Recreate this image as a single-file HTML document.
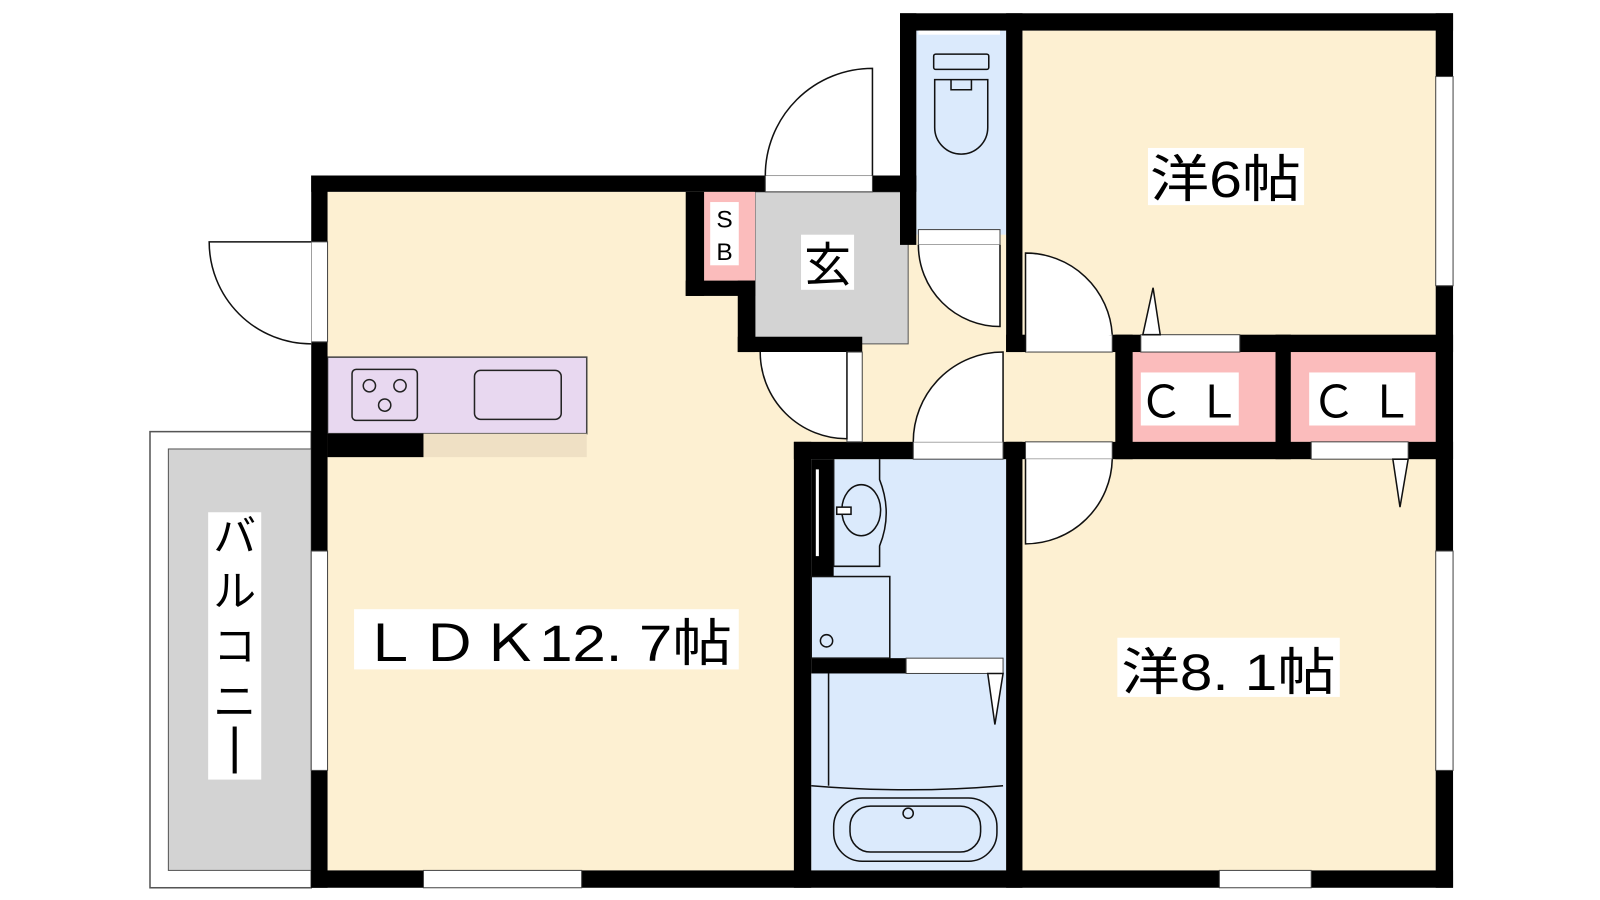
<!DOCTYPE html>
<html><head><meta charset="utf-8"><style>html,body{margin:0;padding:0;background:#fff}svg{display:block}text{font-family:"Liberation Sans","Noto Sans CJK JP",sans-serif}</style></head><body>
<svg width="1600" height="900" viewBox="0 0 1568 882" xmlns="http://www.w3.org/2000/svg">
<rect width="1568" height="882" fill="#fff"/>
<!-- balcony -->
<rect x="147" y="423" width="158" height="447" fill="#fff" stroke="#555" stroke-width="1.5"/>
<rect x="165" y="440" width="140" height="413" fill="#d3d3d3" stroke="#555" stroke-width="1"/>
<!-- floors -->
<rect x="321" y="188" width="681" height="665" fill="#fdf0d2"/>
<rect x="1002" y="30" width="405" height="823" fill="#fdf0d2"/>
<rect x="898" y="30" width="88" height="200" fill="#dbeafc"/>
<rect x="795" y="450" width="191" height="403" fill="#dbeafc"/>
<rect x="740" y="188" width="150" height="149" fill="#d3d3d3" stroke="#555" stroke-width="1"/>
<rect x="690" y="188" width="50" height="87" fill="#fbbcbc"/>
<rect x="1110" y="345" width="140" height="88" fill="#fbbcbc"/>
<rect x="1265" y="345" width="142" height="88" fill="#fbbcbc"/>
<!-- kitchen -->
<rect x="321" y="350" width="254" height="75" fill="#e8d8f0" stroke="#444" stroke-width="1.5"/>
<rect x="415" y="425" width="160" height="23" fill="#efe0c4"/>
<rect x="321" y="425" width="94" height="23" fill="#000"/>
<rect x="345" y="362" width="64" height="50" rx="4" fill="none" stroke="#222" stroke-width="1.5"/>
<circle cx="362" cy="378" r="6" fill="none" stroke="#222" stroke-width="1.5"/><circle cx="392" cy="378" r="6" fill="none" stroke="#222" stroke-width="1.5"/><circle cx="377" cy="397" r="6" fill="none" stroke="#222" stroke-width="1.5"/>
<rect x="465" y="363" width="85" height="48" rx="6" fill="none" stroke="#222" stroke-width="1.5"/>
<!-- walls -->
<g fill="#000">
<rect x="882" y="13" width="542" height="17"/>
<rect x="1407" y="13" width="17" height="857"/>
<rect x="305" y="853" width="1119" height="17"/>
<rect x="305" y="172" width="16" height="698"/>
<rect x="305" y="172" width="445" height="16"/>
<rect x="855" y="172" width="43" height="16"/>
<rect x="882" y="13" width="16" height="227"/>
<rect x="986" y="13" width="16" height="332"/>
<rect x="986" y="328" width="20" height="17"/>
<rect x="1090" y="328" width="28" height="17"/>
<rect x="1215" y="328" width="209" height="17"/>
<rect x="1093" y="328" width="17" height="122"/>
<rect x="1250" y="328" width="15" height="122"/>
<rect x="778" y="433" width="117" height="17"/>
<rect x="983" y="433" width="22" height="17"/>
<rect x="1090" y="433" width="195" height="17"/>
<rect x="1380" y="433" width="44" height="17"/>
<rect x="778" y="433" width="17" height="437"/>
<rect x="986" y="433" width="16" height="437"/>
<rect x="795" y="645" width="93" height="15"/>
<rect x="795" y="450" width="22" height="115"/>
<rect x="672" y="188" width="18" height="102"/>
<rect x="672" y="275" width="68" height="15"/>
<rect x="723" y="275" width="17" height="70"/>
<rect x="723" y="330" width="122" height="15"/>
</g>
<!-- windows / white openings -->
<g fill="#fff" stroke="#444" stroke-width="1">
<rect x="900" y="30" width="80" height="4" stroke="none"/>
<rect x="305" y="237" width="16" height="98"/>
<rect x="305" y="540" width="16" height="215"/>
<rect x="1407" y="75" width="17" height="205"/>
<rect x="1407" y="540" width="17" height="215"/>
<rect x="415" y="853" width="155" height="17"/>
<rect x="1195" y="853" width="90" height="17"/>
<rect x="750" y="172" width="105" height="16"/>
<rect x="900" y="225" width="80" height="15"/>
<rect x="1005" y="328" width="85" height="17"/>
<rect x="1118" y="328" width="97" height="17"/>
<rect x="895" y="433" width="88" height="17"/>
<rect x="1005" y="433" width="85" height="17"/>
<rect x="1285" y="433" width="95" height="17"/>
<rect x="830" y="345" width="15" height="88"/>
<rect x="888" y="645" width="95" height="15"/>
</g>
<line x1="801" y1="460" x2="801" y2="545" stroke="#fff" stroke-width="3"/>
<!-- doors -->
<g fill="#fff" stroke="#111" stroke-width="1.5">
<path d="M855 172 V67 A105 105 0 0 0 750 172"/>
<path d="M305 237 H205 A100 100 0 0 0 305 337"/>
<path d="M980 240 V320 A80 80 0 0 1 900 240"/>
<path d="M1005 345 V248 A85 85 0 0 1 1090 328"/>
<path d="M830 345 V430 A85 85 0 0 1 745 345"/>
<path d="M983 433 V345 A88 88 0 0 0 895 433"/>
<path d="M1005 450 V533 A85 85 0 0 0 1090 450"/>
<path d="M1120 328 L1130 282 L1137 328 Z"/>
<path d="M1365 450 L1372 497 L1380 450 Z"/>
<path d="M968 660 L975 710 L983 660 Z"/>
</g>
<!-- toilet / bath -->
<g fill="none" stroke="#111" stroke-width="1.5">
<rect x="915" y="53" width="54" height="15" rx="2"/>
<path d="M916 78 H968 V125 A26 26 0 0 1 916 125 Z"/>
<path d="M932 78 V88 H952 V78"/>
<path d="M817 450 V555 H862 V535 Q875 503 862 470 V450"/>
<ellipse cx="844" cy="500" rx="19" ry="25"/>
<rect x="820" y="497" width="14" height="7" fill="#fff"/>
<rect x="795" y="565" width="77" height="80"/>
<circle cx="810" cy="628" r="6"/>
<line x1="812" y1="660" x2="812" y2="770"/>
<path d="M795 770 Q890 778 983 770"/>
<rect x="817" y="782" width="160" height="62" rx="28"/>
<rect x="833" y="790" width="128" height="45" rx="20"/>
<circle cx="890" cy="797" r="5"/>
</g>
<!-- labels -->
<rect x="696" y="198" width="28" height="62" fill="#fff"/>
<text x="710" y="223" font-size="24" text-anchor="middle">S</text>
<text x="710" y="255" font-size="24" text-anchor="middle">B</text>
<rect x="785" y="230" width="52" height="54" fill="#fff"/>
<text x="811" y="276" font-size="46" text-anchor="middle">玄</text>
<rect x="1125" y="145" width="153" height="56" fill="#fff"/>
<text x="1201" y="193" font-size="50" text-anchor="middle" textLength="148" lengthAdjust="spacingAndGlyphs">洋6帖</text>
<rect x="1118" y="365" width="96" height="52" fill="#fff"/>
<text x="1166" y="409" font-size="44" text-anchor="middle">Ｃ Ｌ</text>
<rect x="1283" y="365" width="104" height="52" fill="#fff"/>
<text x="1335" y="409" font-size="44" text-anchor="middle">Ｃ Ｌ</text>
<rect x="1095" y="625" width="218" height="58" fill="#fff"/>
<text x="1204" y="676" font-size="50" text-anchor="middle" textLength="210" lengthAdjust="spacingAndGlyphs">洋8. 1帖</text>
<rect x="347" y="597" width="377" height="59" fill="#fff"/>
<text x="535" y="648" font-size="50" text-anchor="middle" textLength="365" lengthAdjust="spacingAndGlyphs">ＬＤＫ12. 7帖</text>
<rect x="204" y="502" width="52" height="262" fill="#fff"/>
<text x="230" y="540" font-size="42" text-anchor="middle">バ</text>
<text x="230" y="594" font-size="42" text-anchor="middle">ル</text>
<text x="230" y="648" font-size="42" text-anchor="middle">コ</text>
<text x="230" y="702" font-size="42" text-anchor="middle">ニ</text>
<rect x="228" y="712" width="4" height="46" fill="#000"/>
</svg>
</body></html>
